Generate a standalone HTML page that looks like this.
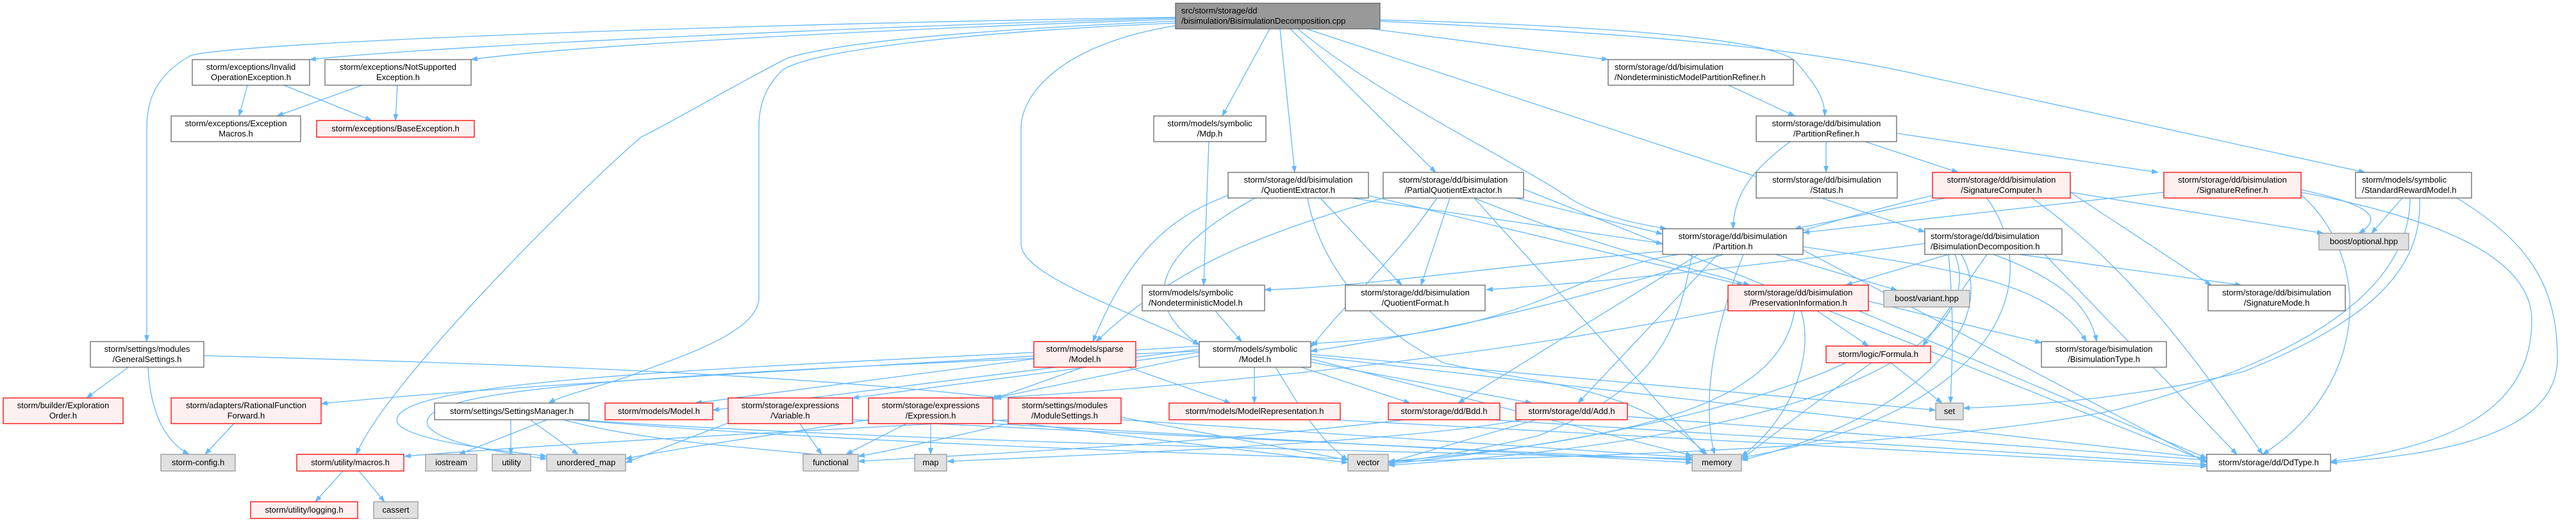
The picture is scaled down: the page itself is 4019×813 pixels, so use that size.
<!DOCTYPE html>
<html><head><meta charset="utf-8"><style>
html,body{margin:0;padding:0;background:#fff;}
svg{display:block;}
text{font-family:"Liberation Sans",sans-serif;font-size:13px;fill:#000;}
.w{fill:#fff;stroke:#666;stroke-width:1.3}
.r{fill:#fff0f0;stroke:#f00;stroke-width:1.3}
.g{fill:#e0e0e0;stroke:#999;stroke-width:1.3}
.k{fill:#999;stroke:#666;stroke-width:1.3}
.e path{fill:none;stroke:#63b8ff;stroke-width:1.3;marker-end:url(#a)}
</style></head><body>
<svg width="4019" height="813" viewBox="0 0 4019 813" xmlns="http://www.w3.org/2000/svg">
<defs><marker id="a" markerUnits="userSpaceOnUse" markerWidth="11" markerHeight="8" refX="10" refY="4" orient="auto"><path d="M0,0 L11,4 L0,8 z" fill="#63b8ff"/></marker></defs>
<g class="e">
<path d="M1834,27 C1000,40 320,70 295,88 C240,120 229,160 229,200 L229,533"/>
<path d="M1834,28 C1400,40 700,70 483,93"/>
<path d="M1834,30 C1400,45 900,70 735,93"/>
<path d="M1834,33 C1450,50 1300,70 1230,90 C1150,130 1050,190 1000,214 C900,300 600,600 556,709"/>
<path d="M1834,36 C1500,50 1260,80 1220,110 C1190,140 1184,170 1184,200 L1184,465 C1184,520 1050,560 1000,580 C950,600 880,615 856,629"/>
<path d="M1834,40 C1650,70 1593,150 1593,200 L1593,380 C1593,430 1750,480 1871,538"/>
<path d="M1981,45 L1907,181"/>
<path d="M1997,45 L2020,269"/>
<path d="M2013,45 L2240,269"/>
<path d="M2025,45 C2150,150 2380,260 2450,310 C2500,340 2560,350 2600,357"/>
<path d="M2038,45 L3003,362"/>
<path d="M2139,45 L2509,93"/>
<path d="M2153,31 C2500,40 2780,60 2805,100 C2840,140 2847,160 2847,181"/>
<path d="M2153,33 C2500,50 2800,70 3000,118 L3690,269"/>
<path d="M386,133 L373,181"/>
<path d="M443,133 L580,188"/>
<path d="M565,133 L432,181"/>
<path d="M620,133 L617,188"/>
<path d="M2697,133 L2800,181"/>
<path d="M2793,221 C2740,260 2704,300 2704,357"/>
<path d="M2849,221 L2849,269"/>
<path d="M2910,221 L3055,269"/>
<path d="M2959,208 L3367,269"/>
<path d="M3748,309 L3700,364"/>
<path d="M1886,221 L1878,445"/>
<path d="M1896,485 L1937,533"/>
<path d="M1916,305 C1820,340 1760,400 1705,533"/>
<path d="M1958,309 C1830,380 1760,460 1871,538"/>
<path d="M2158,309 C1950,370 1830,420 1710,533"/>
<path d="M2620,397 C2450,420 2400,520 2045,536"/>
<path d="M3015,305 C2700,380 2500,480 2045,548"/>
<path d="M2242,309 C2180,400 2120,450 2045,542"/>
<path d="M2060,309 L2187,445"/>
<path d="M2262,309 L2217,445"/>
<path d="M2108,309 L2594,380"/>
<path d="M2365,309 L2594,365"/>
<path d="M2135,305 L2720,445"/>
<path d="M2300,309 C2500,390 2650,420 2730,445"/>
<path d="M2040,309 C2060,420 2150,520 2255,567 C2400,600 2550,600 2663,709"/>
<path d="M2300,309 L2660,709"/>
<path d="M2377,295 L3443,720"/>
<path d="M2594,392 C2300,420 2100,450 1973,452"/>
<path d="M3003,380 C2700,420 2500,440 2319,452"/>
<path d="M3035,309 L2800,357"/>
<path d="M3376,300 L2813,363"/>
<path d="M3040,397 L2880,445"/>
<path d="M2770,397 L2960,453"/>
<path d="M2813,385 C3050,420 3200,440 3255,533"/>
<path d="M3110,397 C3200,430 3260,470 3271,533"/>
<path d="M2915,470 L3185,535"/>
<path d="M2650,397 L2275,629"/>
<path d="M2680,397 L2462,629"/>
<path d="M2640,397 C2620,500 2600,600 2400,680 C2250,715 2180,720 2166,722"/>
<path d="M2720,397 C2660,550 2660,650 2675,709"/>
<path d="M2813,390 L3443,722"/>
<path d="M1871,545 L1112,640"/>
<path d="M1613,560 L1085,629"/>
<path d="M1871,550 L1330,621"/>
<path d="M1871,555 L1552,621"/>
<path d="M1690,573 L1549,623"/>
<path d="M1957,573 L1957,629"/>
<path d="M1760,573 L1920,629"/>
<path d="M2030,573 L2200,629"/>
<path d="M2045,565 L2390,629"/>
<path d="M1871,540 C1400,570 800,600 501,630"/>
<path d="M1613,550 C1000,580 600,600 620,660 C640,690 800,705 853,712"/>
<path d="M1871,548 C1000,585 640,605 668,665 C690,695 800,708 853,716"/>
<path d="M856,654 L716,709"/>
<path d="M797,654 L797,709"/>
<path d="M826,654 L902,709"/>
<path d="M876,654 C1000,690 1200,700 1339,716"/>
<path d="M880,654 C1300,690 1800,705 2103,716"/>
<path d="M884,654 C1400,690 2200,705 2640,716"/>
<path d="M200,573 L135,621"/>
<path d="M231,573 C235,650 260,690 295,709"/>
<path d="M318,555 C700,565 1200,580 1561,621"/>
<path d="M365,661 L320,709"/>
<path d="M535,735 L492,783"/>
<path d="M560,735 L600,783"/>
<path d="M1573,655 C1300,670 900,690 631,712"/>
<path d="M1248,661 L1282,709"/>
<path d="M1414,661 L1320,709"/>
<path d="M1573,661 C1450,690 1380,705 1339,712"/>
<path d="M1452,661 L1452,709"/>
<path d="M2380,654 C2200,690 1700,710 1478,720"/>
<path d="M1355,655 C1200,680 1050,700 976,716"/>
<path d="M1136,660 L976,722"/>
<path d="M1549,655 L2103,722"/>
<path d="M1549,661 L2640,722"/>
<path d="M1330,655 L2640,718"/>
<path d="M1749,651 L2103,718"/>
<path d="M1749,655 L2640,714"/>
<path d="M2200,654 C1900,690 1600,705 1339,720"/>
<path d="M2310,654 L3443,725"/>
<path d="M2539,650 L3443,718"/>
<path d="M2400,654 L2166,722"/>
<path d="M2060,654 L3443,728"/>
<path d="M1990,573 C2020,620 2050,680 2103,718"/>
<path d="M2045,560 L2640,711"/>
<path d="M2045,556 L3443,715"/>
<path d="M2045,553 L3020,640"/>
<path d="M2835,485 L2915,540"/>
<path d="M2810,485 C2830,550 2800,650 2717,712"/>
<path d="M2800,485 C2780,600 2650,680 2166,720"/>
<path d="M2696,483 C2300,560 1900,600 1552,621"/>
<path d="M2900,485 L3443,715"/>
<path d="M2950,566 L3030,629"/>
<path d="M2920,566 C2800,650 2740,700 2717,716"/>
<path d="M2880,566 C2700,650 2400,700 2166,724"/>
<path d="M3100,397 L3000,540"/>
<path d="M3040,397 C3050,500 3045,580 3043,629"/>
<path d="M3230,300 L3450,445"/>
<path d="M3150,397 L3497,445"/>
<path d="M3060,397 C3120,500 3000,650 2717,718"/>
<path d="M3050,397 C3100,520 2900,680 2166,726"/>
<path d="M3190,397 L3490,709"/>
<path d="M3230,300 L3625,364"/>
<path d="M3590,300 C3800,340 3950,400 3950,500 C3950,650 3800,700 3636,720"/>
<path d="M3590,296 C3700,320 3720,340 3680,364"/>
<path d="M3833,309 C3950,380 3990,450 3990,560 C3990,680 3800,710 3636,722"/>
<path d="M3775,309 C3780,420 3700,500 3500,580 C3300,630 3100,635 3063,637"/>
<path d="M3760,309 C3760,450 3600,560 3300,640 C3000,700 2400,715 2166,720"/>
<path d="M3170,309 C3300,400 3400,520 3530,709"/>
<path d="M3100,309 C3200,450 3100,650 2717,714"/>
<path d="M3590,304 C3700,400 3700,600 3530,709"/>
</g>
<g>
<rect class="k" x="1834" y="5" width="319" height="40"/><text x="1843" y="21">src/storm/storage/dd</text><text x="1843" y="37">/bisimulation/BisimulationDecomposition.cpp</text>
<rect class="w" x="300" y="93" width="183" height="40"/><text x="391.5" y="109" text-anchor="middle">storm/exceptions/Invalid</text><text x="391.5" y="125" text-anchor="middle">OperationException.h</text>
<rect class="w" x="507" y="93" width="228" height="40"/><text x="621" y="109" text-anchor="middle">storm/exceptions/NotSupported</text><text x="621" y="125" text-anchor="middle">Exception.h</text>
<rect class="w" x="267" y="181" width="202" height="40"/><text x="368" y="197" text-anchor="middle">storm/exceptions/Exception</text><text x="368" y="213" text-anchor="middle">Macros.h</text>
<rect class="r" x="494" y="188" width="246" height="26"/><text x="617" y="205" text-anchor="middle">storm/exceptions/BaseException.h</text>
<rect class="w" x="2509" y="93" width="289" height="40"/><text x="2519" y="109">storm/storage/dd/bisimulation</text><text x="2519" y="125">/NondeterministicModelPartitionRefiner.h</text>
<rect class="w" x="2740" y="181" width="219" height="40"/><text x="2849.5" y="197" text-anchor="middle">storm/storage/dd/bisimulation</text><text x="2849.5" y="213" text-anchor="middle">/PartitionRefiner.h</text>
<rect class="w" x="1800" y="181" width="175" height="40"/><text x="1887.5" y="197" text-anchor="middle">storm/models/symbolic</text><text x="1887.5" y="213" text-anchor="middle">/Mdp.h</text>
<rect class="w" x="1916" y="269" width="219" height="40"/><text x="2025.5" y="285" text-anchor="middle">storm/storage/dd/bisimulation</text><text x="2025.5" y="301" text-anchor="middle">/QuotientExtractor.h</text>
<rect class="w" x="2158" y="269" width="219" height="40"/><text x="2267.5" y="285" text-anchor="middle">storm/storage/dd/bisimulation</text><text x="2267.5" y="301" text-anchor="middle">/PartialQuotientExtractor.h</text>
<rect class="w" x="2740" y="269" width="220" height="40"/><text x="2850" y="285" text-anchor="middle">storm/storage/dd/bisimulation</text><text x="2850" y="301" text-anchor="middle">/Status.h</text>
<rect class="r" x="3015" y="269" width="215" height="40"/><text x="3122.5" y="285" text-anchor="middle">storm/storage/dd/bisimulation</text><text x="3122.5" y="301" text-anchor="middle">/SignatureComputer.h</text>
<rect class="r" x="3376" y="269" width="214" height="40"/><text x="3483" y="285" text-anchor="middle">storm/storage/dd/bisimulation</text><text x="3483" y="301" text-anchor="middle">/SignatureRefiner.h</text>
<rect class="w" x="3675" y="269" width="181" height="40"/><text x="3685" y="285">storm/models/symbolic</text><text x="3685" y="301">/StandardRewardModel.h</text>
<rect class="w" x="2594" y="357" width="219" height="40"/><text x="2703.5" y="373" text-anchor="middle">storm/storage/dd/bisimulation</text><text x="2703.5" y="389" text-anchor="middle">/Partition.h</text>
<rect class="w" x="3003" y="357" width="214" height="40"/><text x="3012" y="373">storm/storage/dd/bisimulation</text><text x="3012" y="389">/BisimulationDecomposition.h</text>
<rect class="g" x="3618" y="364" width="140" height="26"/><text x="3688" y="381" text-anchor="middle">boost/optional.hpp</text>
<rect class="w" x="1782" y="445" width="191" height="40"/><text x="1792" y="461">storm/models/symbolic</text><text x="1792" y="477">/NondeterministicModel.h</text>
<rect class="w" x="2099" y="445" width="218" height="40"/><text x="2208" y="461" text-anchor="middle">storm/storage/dd/bisimulation</text><text x="2208" y="477" text-anchor="middle">/QuotientFormat.h</text>
<rect class="r" x="2696" y="445" width="219" height="40"/><text x="2805.5" y="461" text-anchor="middle">storm/storage/dd/bisimulation</text><text x="2805.5" y="477" text-anchor="middle">/PreservationInformation.h</text>
<rect class="g" x="2939" y="453" width="134" height="26"/><text x="3006" y="470" text-anchor="middle">boost/variant.hpp</text>
<rect class="w" x="3445" y="445" width="214" height="40"/><text x="3552" y="461" text-anchor="middle">storm/storage/dd/bisimulation</text><text x="3552" y="477" text-anchor="middle">/SignatureMode.h</text>
<rect class="w" x="141" y="533" width="177" height="40"/><text x="229.5" y="549" text-anchor="middle">storm/settings/modules</text><text x="229.5" y="565" text-anchor="middle">/GeneralSettings.h</text>
<rect class="r" x="1613" y="533" width="159" height="40"/><text x="1692.5" y="549" text-anchor="middle">storm/models/sparse</text><text x="1692.5" y="565" text-anchor="middle">/Model.h</text>
<rect class="w" x="1871" y="533" width="174" height="40"/><text x="1958" y="549" text-anchor="middle">storm/models/symbolic</text><text x="1958" y="565" text-anchor="middle">/Model.h</text>
<rect class="r" x="2849" y="540" width="163" height="26"/><text x="2930.5" y="557" text-anchor="middle">storm/logic/Formula.h</text>
<rect class="w" x="3185" y="533" width="195" height="40"/><text x="3282.5" y="549" text-anchor="middle">storm/storage/bisimulation</text><text x="3282.5" y="565" text-anchor="middle">/BisimulationType.h</text>
<rect class="r" x="5" y="621" width="187" height="40"/><text x="98.5" y="637" text-anchor="middle">storm/builder/Exploration</text><text x="98.5" y="653" text-anchor="middle">Order.h</text>
<rect class="r" x="267" y="621" width="234" height="40"/><text x="384" y="637" text-anchor="middle">storm/adapters/RationalFunction</text><text x="384" y="653" text-anchor="middle">Forward.h</text>
<rect class="w" x="678" y="629" width="241" height="26"/><text x="798.5" y="646" text-anchor="middle">storm/settings/SettingsManager.h</text>
<rect class="r" x="944" y="629" width="168" height="26"/><text x="1028" y="646" text-anchor="middle">storm/models/Model.h</text>
<rect class="r" x="1136" y="621" width="194" height="40"/><text x="1233" y="637" text-anchor="middle">storm/storage/expressions</text><text x="1233" y="653" text-anchor="middle">/Variable.h</text>
<rect class="r" x="1355" y="621" width="194" height="40"/><text x="1452" y="637" text-anchor="middle">storm/storage/expressions</text><text x="1452" y="653" text-anchor="middle">/Expression.h</text>
<rect class="r" x="1573" y="621" width="176" height="40"/><text x="1661" y="637" text-anchor="middle">storm/settings/modules</text><text x="1661" y="653" text-anchor="middle">/ModuleSettings.h</text>
<rect class="r" x="1824" y="629" width="267" height="26"/><text x="1957.5" y="646" text-anchor="middle">storm/models/ModelRepresentation.h</text>
<rect class="r" x="2166" y="629" width="174" height="26"/><text x="2253" y="646" text-anchor="middle">storm/storage/dd/Bdd.h</text>
<rect class="r" x="2365" y="629" width="174" height="26"/><text x="2452" y="646" text-anchor="middle">storm/storage/dd/Add.h</text>
<rect class="g" x="3020" y="629" width="43" height="26"/><text x="3041.5" y="646" text-anchor="middle">set</text>
<rect class="g" x="251" y="709" width="116" height="26"/><text x="309" y="726" text-anchor="middle">storm-config.h</text>
<rect class="r" x="463" y="709" width="167" height="26"/><text x="546.5" y="726" text-anchor="middle">storm/utility/macros.h</text>
<rect class="g" x="664" y="709" width="80" height="26"/><text x="704" y="726" text-anchor="middle">iostream</text>
<rect class="g" x="768" y="709" width="60" height="26"/><text x="798" y="726" text-anchor="middle">utility</text>
<rect class="g" x="853" y="709" width="123" height="26"/><text x="914.5" y="726" text-anchor="middle">unordered_map</text>
<rect class="g" x="1253" y="709" width="86" height="26"/><text x="1296" y="726" text-anchor="middle">functional</text>
<rect class="g" x="1427" y="709" width="50" height="26"/><text x="1452" y="726" text-anchor="middle">map</text>
<rect class="g" x="2103" y="709" width="63" height="26"/><text x="2134.5" y="726" text-anchor="middle">vector</text>
<rect class="g" x="2640" y="709" width="77" height="26"/><text x="2678.5" y="726" text-anchor="middle">memory</text>
<rect class="w" x="3443" y="709" width="193" height="26"/><text x="3539.5" y="726" text-anchor="middle">storm/storage/dd/DdType.h</text>
<rect class="r" x="391" y="783" width="167" height="26"/><text x="474.5" y="800" text-anchor="middle">storm/utility/logging.h</text>
<rect class="g" x="583" y="783" width="69" height="26"/><text x="617.5" y="800" text-anchor="middle">cassert</text>
</g>
</svg>
</body></html>
